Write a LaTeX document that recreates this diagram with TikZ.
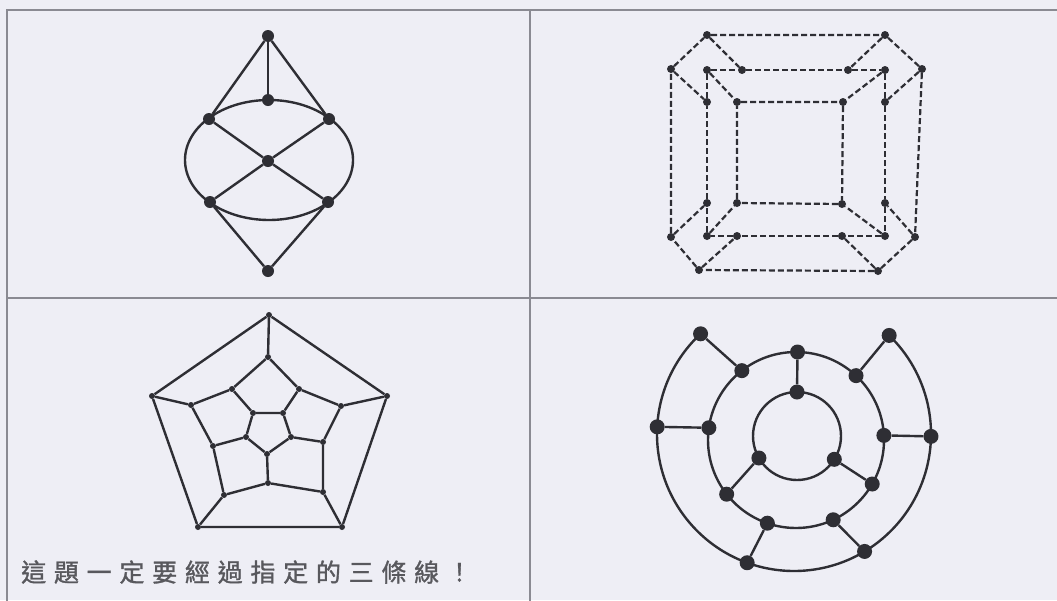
\documentclass[tikz,border=0pt]{standalone}
\usepackage{fontspec}
\newfontfamily\cjk[LetterSpace=31,FakeBold=1.2]{Noto Sans CJK TC}
\usetikzlibrary{calc}
\definecolor{bg}{HTML}{EEEEF5}
\definecolor{grid}{HTML}{8A8A92}
\definecolor{ink}{HTML}{2E2E34}
\tikzset{
  edge/.style={draw=ink,line width=2.4pt},
  dedge/.style={draw=ink,line width=2.2pt,dash pattern=on 6pt off 3pt},
  dotA/.style={circle,fill=ink,inner sep=0pt,minimum size=12pt},
  dotB/.style={circle,fill=ink,inner sep=0pt,minimum size=8pt},
  dotC/.style={circle,fill=ink,inner sep=0pt,minimum size=6pt},
  dotD/.style={circle,fill=ink,inner sep=0pt,minimum size=15pt},
}
\begin{document}
\begin{tikzpicture}[x=1pt,y=-1pt]
\useasboundingbox (0,0) rectangle (1057,600);
\fill[bg] (0,0) rectangle (1057,600);
% table
\draw[grid,line width=2pt] (7,10) rectangle (1062,606);
\draw[grid,line width=2pt] (530,10) -- (530,606);
\draw[grid,line width=2pt] (7,298) -- (1062,298);

% ---------- panel 1 ----------
\draw[edge] (269,160) ellipse [x radius=84, y radius=60];
\node[dotA] (p1t) at (268,36) {};
\node[dotA] (p1m) at (268,100) {};
\node[dotA] (p1ul) at (209,119) {};
\node[dotA] (p1ur) at (329,119) {};
\node[dotA] (p1c) at (268,161) {};
\node[dotA] (p1ll) at (210,202) {};
\node[dotA] (p1lr) at (328,202) {};
\node[dotA] (p1b) at (268,271) {};
\draw[edge] (p1t) -- (p1m);
\draw[edge] (p1t) -- (p1ul);
\draw[edge] (p1t) -- (p1ur);
\draw[edge] (p1ul) -- (p1c);
\draw[edge] (p1ur) -- (p1c);
\draw[edge] (p1ll) -- (p1c);
\draw[edge] (p1lr) -- (p1c);
\draw[edge] (p1ll) -- (p1b);
\draw[edge] (p1lr) -- (p1b);

% ---------- panel 2 ----------
\foreach \n/\x/\y in {a1/707/35,a2/885/35,a3/922/69,a4/915/237,a5/878/271,a6/699/270,a7/671/237,a8/671/69,
  b1/707/70,b2/885/70,b3/885/236,b4/707/236,
  c1/742/70,c2/848/70,c3/885/102,c4/885/203,c5/842/236,c6/737/236,c7/707/203,c8/707/102,
  d1/737/102,d2/843/102,d3/842/204,d4/737/203}
  \node[dotB] (\n) at (\x,\y) {};
\draw[dedge] (a1) -- (a2) -- (a3) -- (a4) -- (a5) -- (a6) -- (a7) -- (a8) -- (a1);
\draw[dedge] (b1) -- (c1) -- (c2) -- (b2) -- (c3) -- (c4) -- (b3) -- (c5) -- (c6) -- (b4) -- (c7) -- (c8) -- (b1);
\draw[dedge] (d1) -- (d2) -- (d3) -- (d4) -- (d1);
\foreach \i in {1,...,8} \draw[dedge] (a\i) -- (c\i);
\foreach \i in {1,...,4} \draw[dedge] (b\i) -- (d\i);

% ---------- panel 3 ----------
\foreach \n/\x/\y in {e1/269/315,e2/387/396,e3/342/527,e4/198/527,e5/152/396,
  m1/268/357,m2/299/389,m3/341/406,m4/323/442,m5/323/492,m6/268/483,m7/224/495,m8/213/446,m9/191/405,m10/232/389,
  i1/253/413,i2/283/413,i3/291/437,i4/267/454,i5/246/437}
  \node[dotC] (\n) at (\x,\y) {};
\draw[edge] (e1) -- (e2) -- (e3) -- (e4) -- (e5) -- (e1);
\draw[edge] (e1) -- (m1);
\draw[edge] (e2) -- (m3);
\draw[edge] (e3) -- (m5);
\draw[edge] (e4) -- (m7);
\draw[edge] (e5) -- (m9);
\draw[edge] (m1) -- (m2) -- (m3) -- (m4) -- (m5) -- (m6) -- (m7) -- (m8) -- (m9) -- (m10) -- (m1);
\draw[edge] (m2) -- (i2);
\draw[edge] (m4) -- (i3);
\draw[edge] (m6) -- (i4);
\draw[edge] (m8) -- (i5);
\draw[edge] (m10) -- (i1);
\draw[edge] (i1) -- (i2) -- (i3) -- (i4) -- (i5) -- (i1);

% ---------- panel 4 ----------
\coordinate (Co) at (794,434);
\coordinate (Cm) at (796,440);
\coordinate (Ci) at (797,436);
\draw[edge] ($(Co)+(227:137)$) arc[start angle=227, end angle=-46, radius=137];
\draw[edge] (Cm) circle[radius=88];
\draw[edge] (Ci) circle[radius=44];
\foreach \n/\a in {o1/227,o2/314,o3/183,o4/1,o5/110,o6/59}
  \node[dotD] (\n) at ($(Co)+(\a:137)$) {};
\foreach \n/\a in {n1/271,n2/232,n3/313,n4/188,n5/357,n6/142,n7/30,n8/109,n9/65}
  \node[dotD] (\n) at ($(Cm)+(\a:88)$) {};
\foreach \n/\a in {j1/270,j2/150,j3/32}
  \node[dotD] (\n) at ($(Ci)+(\a:44)$) {};
\draw[edge] (o1) -- (n2);
\draw[edge] (o2) -- (n3);
\draw[edge] (o3) -- (n4);
\draw[edge] (o4) -- (n5);
\draw[edge] (o5) -- (n8);
\draw[edge] (o6) -- (n9);
\draw[edge] (j1) -- (n1);
\draw[edge] (j2) -- (n6);
\draw[edge] (j3) -- (n7);

% ---------- text ----------
\node[anchor=west,inner sep=0pt,text=ink!80] (note) at (21,572)
  {\cjk\fontsize{25}{25}\selectfont 這題一定要經過指定的三條線！};
\end{tikzpicture}
\end{document}
